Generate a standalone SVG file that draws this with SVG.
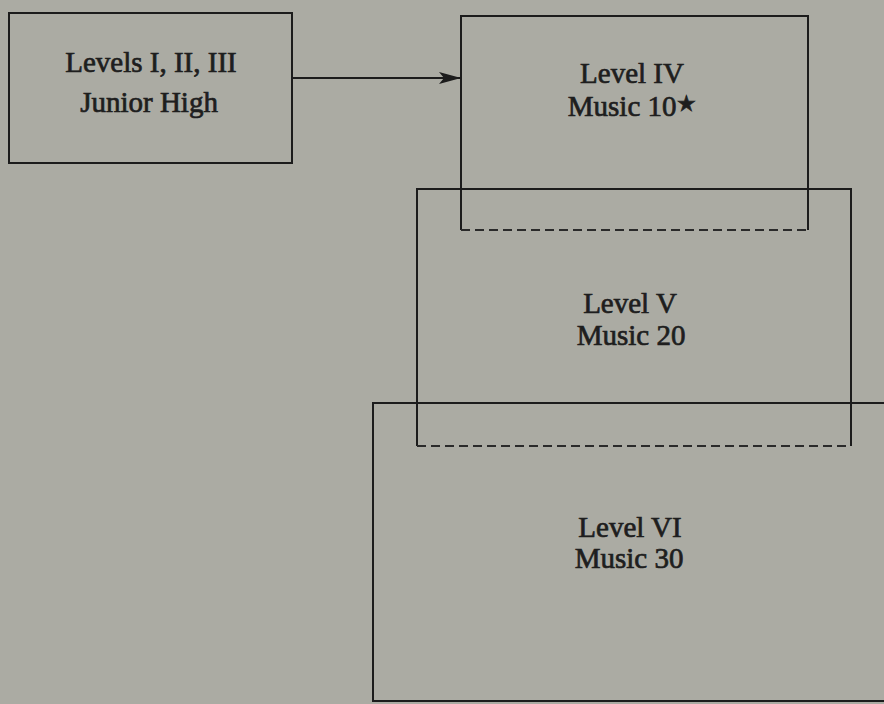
<svg xmlns="http://www.w3.org/2000/svg" width="884" height="704" viewBox="0 0 884 704">
  <style>
    .box { fill: none; stroke: #1c1c1c; stroke-width: 2; }
    .dash { fill: none; stroke: #2a2a2a; stroke-width: 2.2; stroke-dasharray: 9 5; }
    .lbl { font-family: "Liberation Serif", "DejaVu Serif", serif; font-size: 29px; fill: #1e1e1e; stroke: #1e1e1e; stroke-width: 0.7; text-anchor: middle; }
    .conn { fill: none; stroke: #1c1c1c; stroke-width: 2; }
  </style>
  <defs>
    <marker id="arr" markerUnits="userSpaceOnUse" markerWidth="24" markerHeight="14" refX="22" refY="7" orient="auto">
      <path d="M0,1 L22,7 L0,13 L5,7 Z" fill="#1c1c1c"/>
    </marker>
  </defs>
  <rect x="0" y="0" width="884" height="704" fill="#ababa3"/>

  <g id="node-junior">
    <rect class="box" x="9" y="13" width="283" height="150"/>
    <text class="lbl" x="151" y="72">Levels I, II, III</text>
    <text class="lbl" x="149" y="112">Junior High</text>
  </g>

  <g id="node-level4">
    <path class="box" d="M461,230 V16 H808 V230"/>
    <path class="dash" d="M461,230 H808"/>
    <text class="lbl" x="632" y="83">Level IV</text>
    <text class="lbl" x="632" y="116">Music 10<tspan font-family="DejaVu Sans, sans-serif" font-size="22" dy="-5">★</tspan></text>
  </g>

  <g id="node-level5">
    <path class="box" d="M417,446 V189 H851 V446"/>
    <path class="dash" d="M417,446 H851"/>
    <text class="lbl" x="630" y="313">Level V</text>
    <text class="lbl" x="631" y="345">Music 20</text>
  </g>

  <g id="node-level6">
    <path class="box" d="M890,403 H373 V701 H890"/>
    <text class="lbl" x="630" y="537">Level VI</text>
    <text class="lbl" x="629" y="568">Music 30</text>
  </g>

  <g id="connectors">
    <line class="conn" x1="292" y1="78" x2="461" y2="78" marker-end="url(#arr)"/>
  </g>
</svg>
